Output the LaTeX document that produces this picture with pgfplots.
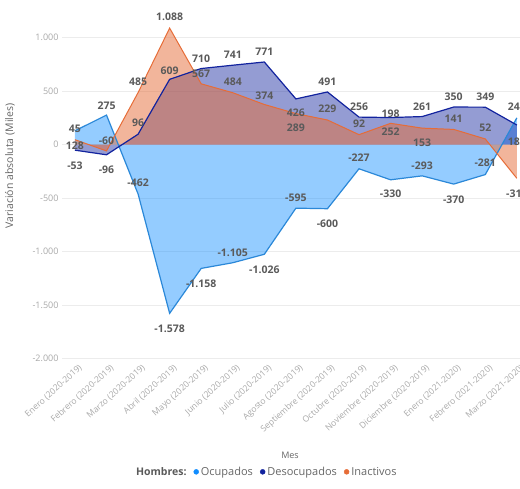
\documentclass[border=0pt]{standalone}
\usepackage{pgfplots}
\usepackage{pgfplotstable}
\pgfplotsset{compat=1.18}
\usepackage{fontspec}
\setmainfont{Open Sans}

\definecolor{ocup}{HTML}{118DFF}
\definecolor{ocupline}{HTML}{2B88D8}
\definecolor{desoc}{HTML}{12239E}
\definecolor{inact}{HTML}{E66C37}
\definecolor{labelgray}{HTML}{5A5A5A}
\definecolor{tickgray}{HTML}{A8A8A8}
\definecolor{titlegray}{HTML}{666666}
\definecolor{gridgray}{HTML}{ECECEC}

% x = month index, y = variation (thousands), dy = vertical offset of the value label
\pgfplotstableread{
x y dy
0 128 -15
1 275 9
2 -462 11
3 -1578 -15
4 -1158 -15
5 -1105 10
6 -1026 -15
7 -595 10
8 -600 -15
9 -227 11
10 -330 -14
11 -293 10
12 -370 -16
13 -281 12
14 249 11
}\ocupados

\pgfplotstableread{
x y dy
0 -53 -16
1 -96 -15
2 96 11
3 609 9
4 710 10
5 741 10
6 771 10
7 426 -14
8 491 10
9 256 10
10 252 -14
11 261 10
12 350 10
13 349 10
14 182 -17
}\desocupados

\pgfplotstableread{
x y dy
0 45 11
1 -60 10
2 485 11
3 1088 11
4 567 10
5 484 11
6 374 9
7 289 -14
8 229 11
9 92 11
10 198 10
11 153 -15
12 141 11
13 52 11
14 -316 -15
}\inactivos

\begin{document}
\begin{tikzpicture}
\path[use as bounding box] (0pt,0pt) rectangle (520pt,488pt);
\begin{axis}[
  at={(62pt,129.5pt)}, anchor=south west,
  scale only axis,
  width=458pt, height=342.4pt,
  xmin=-0.41, xmax=14.1,
  ymin=-2000, ymax=1200,
  clip=false,
  axis line style={draw=none},
  tick style={draw=none},
  ytick={-2000,-1500,...,1000},
  ymajorgrids,
  grid style={gridgray, line width=0.6pt},
  /pgf/number format/.cd, 1000 sep={.}, assume math mode=true,
  /pgfplots/.cd,
  yticklabel style={font=\fontsize{9}{10}\selectfont, text=tickgray},
  xtick={0,...,14},
  xticklabels={Enero (2020-2019), Febrero (2020-2019), Marzo (2020-2019),
    Abril (2020-2019), Mayo (2020-2019), Junio (2020-2019), Julio (2020-2019),
    Agosto (2020-2019), Septiembre (2020-2019), Octubre (2020-2019),
    Noviembre (2020-2019), Diciembre (2020-2019), Enero (2021-2020),
    Febrero (2021-2020), Marzo (2021-2020)},
  xticklabel style={rotate=42, anchor=north east, font=\fontsize{8.6}{9}\selectfont,
    text=tickgray, inner sep=1pt, yshift=-5pt},
  legend style={at={(0.445,-0.331)}, anchor=center, draw=none, fill=none,
    legend columns=-1, font=\fontsize{11}{13}\selectfont, text=titlegray,
    /tikz/every odd column/.append style={column sep=1pt},
    /tikz/every even column/.append style={column sep=6pt},
    nodes={inner sep=1pt}},
  every node near coord/.append style={anchor=center, yshift=\dy pt,
    font=\bfseries\fontsize{10.5}{12}\selectfont, text=labelgray},
]
% filled areas down to zero
\addplot[forget plot, draw=none, fill=ocup, fill opacity=0.45] table[x=x,y=y]{\ocupados} \closedcycle;
\addplot[forget plot, draw=none, fill=desoc, fill opacity=0.45] table[x=x,y=y]{\desocupados} \closedcycle;
\addplot[forget plot, draw=none, fill=inact, fill opacity=0.5] table[x=x,y=y]{\inactivos} \closedcycle;
% outlines with value labels
\addplot[forget plot, ocupline, line width=1.2pt, nodes near coords, point meta=explicit,
  visualization depends on={\thisrow{dy} \as \dy}] table[x=x,y=y,meta=y]{\ocupados};
\addplot[forget plot, desoc, line width=1.2pt, nodes near coords, point meta=explicit,
  visualization depends on={\thisrow{dy} \as \dy}] table[x=x,y=y,meta=y]{\desocupados};
\addplot[forget plot, inact, line width=1pt, nodes near coords, point meta=explicit,
  visualization depends on={\thisrow{dy} \as \dy}] table[x=x,y=y,meta=y]{\inactivos};
% legend
\addlegendimage{empty legend}
\addlegendentry{\textbf{\fontsize{10.5}{13}\selectfont\color{labelgray}Hombres:}}
\addlegendimage{legend image code/.code={\fill[ocup] (0.1cm,0pt) circle (2.5pt);}}
\addlegendentry{Ocupados}
\addlegendimage{legend image code/.code={\fill[desoc] (0.1cm,0pt) circle (2.5pt);}}
\addlegendentry{Desocupados}
\addlegendimage{legend image code/.code={\fill[inact] (0.1cm,0pt) circle (2.5pt);}}
\addlegendentry{Inactivos}
\end{axis}
\node[font=\fontsize{9}{11}\selectfont, text=titlegray] at (290pt,33pt) {Mes};
\node[rotate=90, font=\fontsize{10.5}{12}\selectfont, text=titlegray] at (10pt,322pt) {Variación absoluta (Miles)};
\end{tikzpicture}
\end{document}
